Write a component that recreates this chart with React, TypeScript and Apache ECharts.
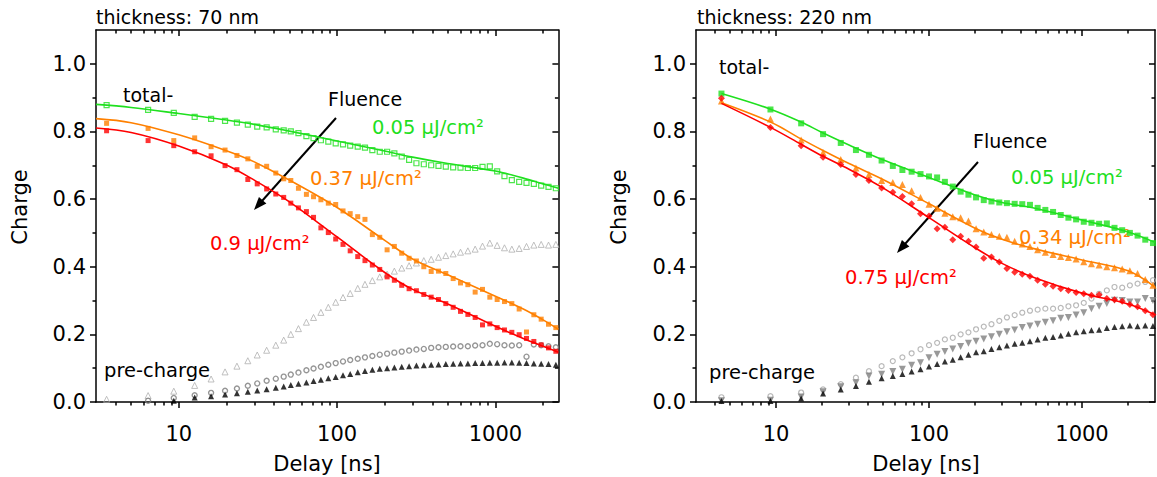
import React, { useEffect, useRef } from "react";
import * as echarts from "echarts";

// ---------- Left panel (thickness 70 nm) ----------
const L_delay = [3.5, 6.4, 9.3, 12.6, 16, 19.6, 23.3, 27.3, 31.3, 35.9, 41, 46, 51, 57, 64, 71, 79, 88, 98, 109, 121, 135, 150, 167, 186, 207, 230, 256, 285, 317, 353, 393, 437, 486, 541, 602, 670, 745, 829, 922, 1026, 1141, 1270, 1413, 1572, 1749, 1946, 2165, 2409];
const L_green = [0.878, 0.864, 0.855, 0.843, 0.837, 0.831, 0.826, 0.820, 0.814, 0.812, 0.806, 0.803, 0.800, 0.795, 0.786, 0.780, 0.774, 0.770, 0.765, 0.762, 0.758, 0.755, 0.752, 0.745, 0.740, 0.740, 0.735, 0.726, 0.716, 0.706, 0.703, 0.700, 0.698, 0.696, 0.694, 0.693, 0.692, 0.692, 0.695, 0.697, 0.682, 0.668, 0.656, 0.651, 0.648, 0.645, 0.640, 0.636, 0.632];
const L_orange = [0.824, 0.809, 0.773, 0.781, 0.755, 0.745, 0.729, 0.719, 0.697, 0.697, 0.677, 0.660, 0.655, 0.632, 0.614, 0.607, 0.598, 0.588, 0.584, 0.565, 0.557, 0.548, 0.540, 0.495, 0.487, 0.450, 0.460, 0.440, 0.425, 0.417, 0.400, 0.386, 0.387, 0.380, 0.365, 0.352, 0.347, 0.325, 0.333, 0.310, 0.303, 0.297, 0.291, 0.275, 0.207, 0.258, 0.245, 0.230, 0.220];
const L_red = [0.802, 0.773, 0.758, 0.740, 0.728, 0.699, 0.687, 0.658, 0.645, 0.630, 0.615, 0.605, 0.588, 0.574, 0.563, 0.546, 0.515, 0.501, 0.482, 0.466, 0.447, 0.430, 0.418, 0.405, 0.392, 0.370, 0.360, 0.345, 0.335, 0.329, 0.318, 0.310, 0.303, 0.291, 0.280, 0.268, 0.259, 0.250, 0.228, 0.231, 0.220, 0.213, 0.206, 0.199, 0.188, 0.179, 0.169, 0.160, 0.150];
const L_openTri = [0.008, 0.019, 0.032, 0.049, 0.068, 0.089, 0.106, 0.122, 0.139, 0.153, 0.168, 0.183, 0.200, 0.217, 0.236, 0.250, 0.265, 0.280, 0.295, 0.309, 0.321, 0.336, 0.348, 0.359, 0.370, 0.378, 0.387, 0.396, 0.403, 0.411, 0.418, 0.422, 0.428, 0.433, 0.438, 0.443, 0.447, 0.452, 0.461, 0.470, 0.463, 0.456, 0.452, 0.454, 0.460, 0.464, 0.466, 0.464, 0.466];
const L_circ: (number | null)[] = [null, 0.004, 0.012, 0.020, 0.027, 0.033, 0.040, 0.048, 0.055, 0.063, 0.069, 0.075, 0.081, 0.087, 0.094, 0.099, 0.104, 0.110, 0.115, 0.120, 0.124, 0.128, 0.132, 0.136, 0.140, 0.143, 0.146, 0.149, 0.152, 0.155, 0.157, 0.160, 0.162, 0.163, 0.164, 0.165, 0.165, 0.167, 0.168, 0.172, 0.171, 0.168, 0.167, 0.168, 0.134, 0.170, 0.168, 0.165, 0.162];
const L_blackTri: (number | null)[] = [null, null, 0.004, 0.013, 0.017, 0.022, 0.026, 0.030, 0.034, 0.038, 0.042, 0.046, 0.050, 0.054, 0.058, 0.062, 0.066, 0.070, 0.074, 0.079, 0.083, 0.088, 0.092, 0.095, 0.098, 0.100, 0.102, 0.104, 0.106, 0.108, 0.109, 0.110, 0.111, 0.112, 0.113, 0.114, 0.114, 0.115, 0.115, 0.116, 0.116, 0.117, 0.117, 0.116, 0.115, 0.114, 0.113, 0.112, 0.110];

const LF_x = [3, 5, 10, 20, 30, 50, 100, 200, 300, 500, 1000, 1500, 2000, 2500];
const LF_green = [0.880, 0.871, 0.853, 0.834, 0.821, 0.801, 0.772, 0.742, 0.724, 0.705, 0.683, 0.662, 0.645, 0.632];
const LF_orange = [0.838, 0.826, 0.790, 0.743, 0.710, 0.656, 0.575, 0.478, 0.423, 0.376, 0.313, 0.275, 0.243, 0.215];
const LF_red = [0.810, 0.797, 0.757, 0.701, 0.656, 0.592, 0.488, 0.383, 0.333, 0.290, 0.224, 0.188, 0.165, 0.147];

// ---------- Right panel (thickness 220 nm) ----------
const R_delay = [4.4, 9.2, 14.6, 20.3, 26.5, 33.3, 40.5, 49, 58, 67, 77, 88, 100, 113, 127, 143, 161, 181, 203, 228, 256, 288, 323, 363, 407, 457, 513, 576, 647, 726, 815, 915, 1027, 1153, 1294, 1453, 1631, 1831, 2056, 2308, 2591, 2909];
const R_green = [0.912, 0.865, 0.824, 0.792, 0.766, 0.745, 0.731, 0.714, 0.698, 0.686, 0.681, 0.674, 0.667, 0.664, 0.651, 0.637, 0.622, 0.613, 0.605, 0.597, 0.593, 0.590, 0.588, 0.586, 0.585, 0.583, 0.574, 0.568, 0.562, 0.553, 0.545, 0.540, 0.533, 0.530, 0.527, 0.528, 0.515, 0.508, 0.500, 0.492, 0.480, 0.470];
const R_orange = [0.890, 0.837, 0.775, 0.738, 0.717, 0.692, 0.673, 0.655, 0.649, 0.643, 0.625, 0.605, 0.585, 0.573, 0.558, 0.548, 0.545, 0.535, 0.512, 0.503, 0.495, 0.490, 0.487, 0.475, 0.467, 0.460, 0.450, 0.443, 0.436, 0.430, 0.427, 0.423, 0.415, 0.409, 0.405, 0.400, 0.397, 0.393, 0.388, 0.380, 0.362, 0.345];
const R_red = [0.898, 0.812, 0.758, 0.724, 0.702, 0.673, 0.655, 0.633, 0.620, 0.608, 0.586, 0.557, 0.550, 0.512, 0.517, 0.480, 0.490, 0.475, 0.458, 0.425, 0.429, 0.414, 0.395, 0.384, 0.378, 0.372, 0.360, 0.348, 0.342, 0.335, 0.330, 0.324, 0.320, 0.316, 0.317, 0.306, 0.302, 0.298, 0.288, 0.282, 0.270, 0.258];
const R_circ = [0.014, 0.017, 0.028, 0.037, 0.053, 0.072, 0.091, 0.106, 0.121, 0.132, 0.144, 0.156, 0.168, 0.175, 0.185, 0.190, 0.200, 0.206, 0.215, 0.223, 0.230, 0.240, 0.250, 0.257, 0.264, 0.270, 0.273, 0.276, 0.276, 0.278, 0.283, 0.286, 0.293, 0.306, 0.320, 0.330, 0.340, 0.338, 0.345, 0.350, 0.355, 0.360];
const R_grayTri = [0.004, 0.005, 0.015, 0.030, 0.045, 0.057, 0.077, 0.082, 0.090, 0.097, 0.109, 0.116, 0.131, 0.141, 0.149, 0.157, 0.164, 0.174, 0.180, 0.186, 0.193, 0.200, 0.208, 0.213, 0.220, 0.225, 0.230, 0.236, 0.240, 0.248, 0.250, 0.257, 0.264, 0.276, 0.283, 0.291, 0.301, 0.300, 0.296, 0.296, 0.306, 0.300];
const R_blackTri = [0.003, 0.003, 0.010, 0.025, 0.037, 0.047, 0.060, 0.070, 0.077, 0.083, 0.090, 0.097, 0.105, 0.112, 0.120, 0.125, 0.132, 0.140, 0.147, 0.150, 0.157, 0.162, 0.167, 0.172, 0.175, 0.180, 0.185, 0.190, 0.192, 0.197, 0.202, 0.206, 0.209, 0.212, 0.214, 0.219, 0.222, 0.224, 0.226, 0.224, 0.226, 0.225];

const RF_x = [4.4, 9.2, 14.6, 20, 30, 50, 100, 200, 300, 500, 1000, 2000, 3000];
const RF_green = [0.912, 0.866, 0.828, 0.797, 0.760, 0.716, 0.664, 0.612, 0.590, 0.572, 0.538, 0.503, 0.472];
const RF_orange = [0.885, 0.828, 0.778, 0.745, 0.705, 0.658, 0.586, 0.514, 0.481, 0.452, 0.420, 0.388, 0.340];
const RF_red = [0.883, 0.812, 0.762, 0.728, 0.688, 0.633, 0.545, 0.456, 0.410, 0.366, 0.322, 0.290, 0.258];

// ---------- Axis ticks ----------
const X_MAJOR = [10, 100, 1000];
const X_MINOR = [4, 5, 6, 7, 8, 9, 20, 30, 40, 50, 60, 70, 80, 90, 200, 300, 400, 500, 600, 700, 800, 900, 2000];
const Y_MAJOR = [0, 0.2, 0.4, 0.6, 0.8, 1.0];
const Y_MINOR = [0.1, 0.3, 0.5, 0.7, 0.9];

const FONT = "DejaVu Sans";
const GREEN = "#1fe01f";
const ORANGE = "#ff8000";
const RED = "#ff0000";

function pairs(xs: number[], ys: (number | null)[]) {
  const out: number[][] = [];
  xs.forEach((x, i) => {
    const y = ys[i];
    if (y !== null && y !== undefined) out.push([x, y]);
  });
  return out;
}

const tickStyle = { color: "#000", width: 1.5 };

function makeXAxes(grid: number, min: number, max: number) {
  const base: any = {
    type: "log",
    logBase: 10,
    gridIndex: grid,
    min,
    max,
    splitLine: { show: false },
    minorTick: { show: false },
    axisLabel: { show: false },
  };
  const line = { show: true, onZero: false, lineStyle: { color: "#000", width: 1.5 } };
  const noLine = { show: false, onZero: false };
  return [
    {
      ...base,
      position: "bottom",
      axisLine: line,
      axisTick: { show: true, customValues: X_MAJOR, length: 6, inside: false, lineStyle: tickStyle },
      axisLabel: {
        show: true,
        customValues: X_MAJOR,
        margin: 21,
        fontSize: 21,
        fontFamily: FONT,
        color: "#000",
        formatter: (v: number) => String(Math.round(v)),
      },
    },
    {
      ...base,
      position: "bottom",
      axisLine: noLine,
      axisTick: { show: true, customValues: X_MINOR, length: 3.5, inside: false, lineStyle: tickStyle },
    },
    {
      ...base,
      position: "top",
      axisLine: line,
      axisTick: { show: true, customValues: X_MAJOR, length: 6, inside: true, lineStyle: tickStyle },
    },
    {
      ...base,
      position: "top",
      axisLine: noLine,
      axisTick: { show: true, customValues: X_MINOR, length: 3.5, inside: true, lineStyle: tickStyle },
    },
  ];
}

function makeYAxes(grid: number) {
  const base: any = {
    type: "value",
    gridIndex: grid,
    min: 0,
    max: 1.1,
    splitLine: { show: false },
    minorTick: { show: false },
    axisLabel: { show: false },
  };
  const line = { show: true, onZero: false, lineStyle: { color: "#000", width: 1.5 } };
  const noLine = { show: false, onZero: false };
  return [
    {
      ...base,
      position: "left",
      axisLine: line,
      axisTick: { show: true, customValues: Y_MAJOR, length: 6, inside: false, lineStyle: tickStyle },
      axisLabel: {
        show: true,
        customValues: Y_MAJOR,
        margin: 10,
        fontSize: 21,
        fontFamily: FONT,
        color: "#000",
        formatter: (v: number) => v.toFixed(1),
      },
    },
    {
      ...base,
      position: "left",
      axisLine: noLine,
      axisTick: { show: true, customValues: Y_MINOR, length: 3.5, inside: false, lineStyle: tickStyle },
    },
    {
      ...base,
      position: "right",
      axisLine: line,
      axisTick: { show: true, customValues: Y_MAJOR, length: 6, inside: true, lineStyle: tickStyle },
    },
    {
      ...base,
      position: "right",
      axisLine: noLine,
      axisTick: { show: true, customValues: Y_MINOR, length: 3.5, inside: true, lineStyle: tickStyle },
    },
  ];
}

function scatter(ax: number, data: number[][], symbol: string, size: number, item: any, rotate = 0) {
  return {
    type: "scatter",
    xAxisIndex: ax,
    yAxisIndex: ax,
    data,
    symbol,
    symbolSize: size,
    symbolRotate: rotate,
    itemStyle: item,
    silent: true,
    z: 2,
  };
}

function fit(ax: number, xs: number[], ys: number[], color: string) {
  return {
    type: "line",
    xAxisIndex: ax,
    yAxisIndex: ax,
    data: pairs(xs, ys),
    showSymbol: false,
    symbol: "none",
    smooth: 0.35,
    lineStyle: { color, width: 1.6 },
    silent: true,
    z: 3,
  };
}

function text(x: number, y: number, t: string, color = "#000", size = 19, extra: any = {}) {
  return {
    type: "text",
    x,
    y,
    silent: true,
    ...extra,
    style: {
      text: t,
      fill: color,
      fontSize: size,
      fontFamily: FONT,
      align: extra.align || "left",
      verticalAlign: "middle",
    },
  };
}

function arrow(x1: number, y1: number, x2: number, y2: number) {
  const dx = x2 - x1;
  const dy = y2 - y1;
  const len = Math.sqrt(dx * dx + dy * dy);
  const ux = dx / len;
  const uy = dy / len;
  const hl = 13;
  const hw = 5;
  const bx = x2 - ux * hl;
  const by = y2 - uy * hl;
  return [
    {
      type: "line",
      silent: true,
      shape: { x1, y1, x2: bx + ux * 2, y2: by + uy * 2 },
      style: { stroke: "#000", lineWidth: 2 },
    },
    {
      type: "polygon",
      silent: true,
      shape: {
        points: [
          [x2, y2],
          [bx - uy * hw, by + ux * hw],
          [bx + uy * hw, by - ux * hw],
        ],
      },
      style: { fill: "#000" },
    },
  ];
}

function buildOption(): any {
  const xAxes = [...makeXAxes(0, 3, 2500), ...makeXAxes(1, 3, 3000)];
  const yAxes = [...makeYAxes(0), ...makeYAxes(1)];
  const L = 0;
  const R = 4;
  const open = (c: string, w = 1) => ({ color: "rgba(255,255,255,0)", borderColor: c, borderWidth: w });

  const series = [
    // left panel
    scatter(L, pairs(L_delay, L_openTri), "triangle", 6, open("#b0b0b0", 1)),
    scatter(L, pairs(L_delay, L_circ), "circle", 5, open("#7a7a7a", 1.4)),
    scatter(L, pairs(L_delay, L_blackTri), "triangle", 6, { color: "#000" }),
    scatter(L, pairs(L_delay, L_green), "rect", 5, open(GREEN, 1.2)),
    scatter(L, pairs(L_delay, L_orange), "rect", 5, { color: ORANGE }),
    scatter(L, pairs(L_delay, L_red), "rect", 5, { color: RED }),
    fit(L, LF_x, LF_green, GREEN),
    fit(L, LF_x, LF_orange, ORANGE),
    fit(L, LF_x, LF_red, RED),
    // right panel
    scatter(R, pairs(R_delay, R_circ), "circle", 5, open("#a8a8a8", 1.2)),
    scatter(R, pairs(R_delay, R_grayTri), "triangle", 7, { color: "#808080" }, 180),
    scatter(R, pairs(R_delay, R_blackTri), "triangle", 6, { color: "#000" }),
    scatter(R, pairs(R_delay, R_green), "rect", 6, { color: GREEN }),
    scatter(R, pairs(R_delay, R_orange), "triangle", 7, { color: ORANGE }),
    scatter(R, pairs(R_delay, R_red), "diamond", 7, { color: RED }),
    fit(R, RF_x, RF_green, GREEN),
    fit(R, RF_x, RF_orange, ORANGE),
    fit(R, RF_x, RF_red, RED),
  ];

  const graphic = [
    // left panel texts
    text(96, 17, "thickness: 70 nm", "#000", 19),
    text(20, 207, "Charge", "#000", 21, { rotation: Math.PI / 2, align: "center" }),
    text(327, 464, "Delay [ns]", "#000", 21, { align: "center" }),
    text(123, 95, "total-", "#000", 19),
    text(328, 99, "Fluence", "#000", 19),
    text(372, 127, "0.05 µJ/cm²", GREEN, 19.5),
    text(310, 178, "0.37 µJ/cm²", ORANGE, 19.5),
    text(210, 243, "0.9 µJ/cm²", RED, 19.5),
    text(104, 370, "pre-charge", "#000", 19.5),
    ...arrow(336, 118, 254, 210),
    // right panel texts
    text(697, 17, "thickness: 220 nm", "#000", 19),
    text(619, 207, "Charge", "#000", 21, { rotation: Math.PI / 2, align: "center" }),
    text(926, 464, "Delay [ns]", "#000", 21, { align: "center" }),
    text(719, 67, "total-", "#000", 19),
    text(973, 141, "Fluence", "#000", 19),
    text(1011, 177, "0.05 µJ/cm²", GREEN, 19.5),
    text(1019, 237, "0.34 µJ/cm²", ORANGE, 19.5),
    text(845, 277, "0.75 µJ/cm²", RED, 19.5),
    text(709, 372, "pre-charge", "#000", 19.5),
    ...arrow(978, 162, 897, 253),
  ];

  return {
    animation: false,
    backgroundColor: "#fff",
    textStyle: { fontFamily: FONT },
    grid: [
      { left: 96, top: 30, width: 462.4, height: 372, show: false, containLabel: false, outerBoundsMode: "none" },
      { left: 696, top: 30, width: 459, height: 372, show: false, containLabel: false, outerBoundsMode: "none" },
    ],
    xAxis: xAxes,
    yAxis: yAxes,
    series,
    graphic,
  };
}

export default function App() {
  const ref = useRef<HTMLDivElement>(null);
  useEffect(() => {
    if (!ref.current) return;
    const chart = echarts.init(ref.current, null, { renderer: "svg" });
    chart.setOption(buildOption());
    return () => chart.dispose();
  }, []);
  return (
    <div
      ref={ref}
      style={{ position: "absolute", left: 0, top: 0, width: 1157, height: 477, background: "#fff" }}
    />
  );
}
